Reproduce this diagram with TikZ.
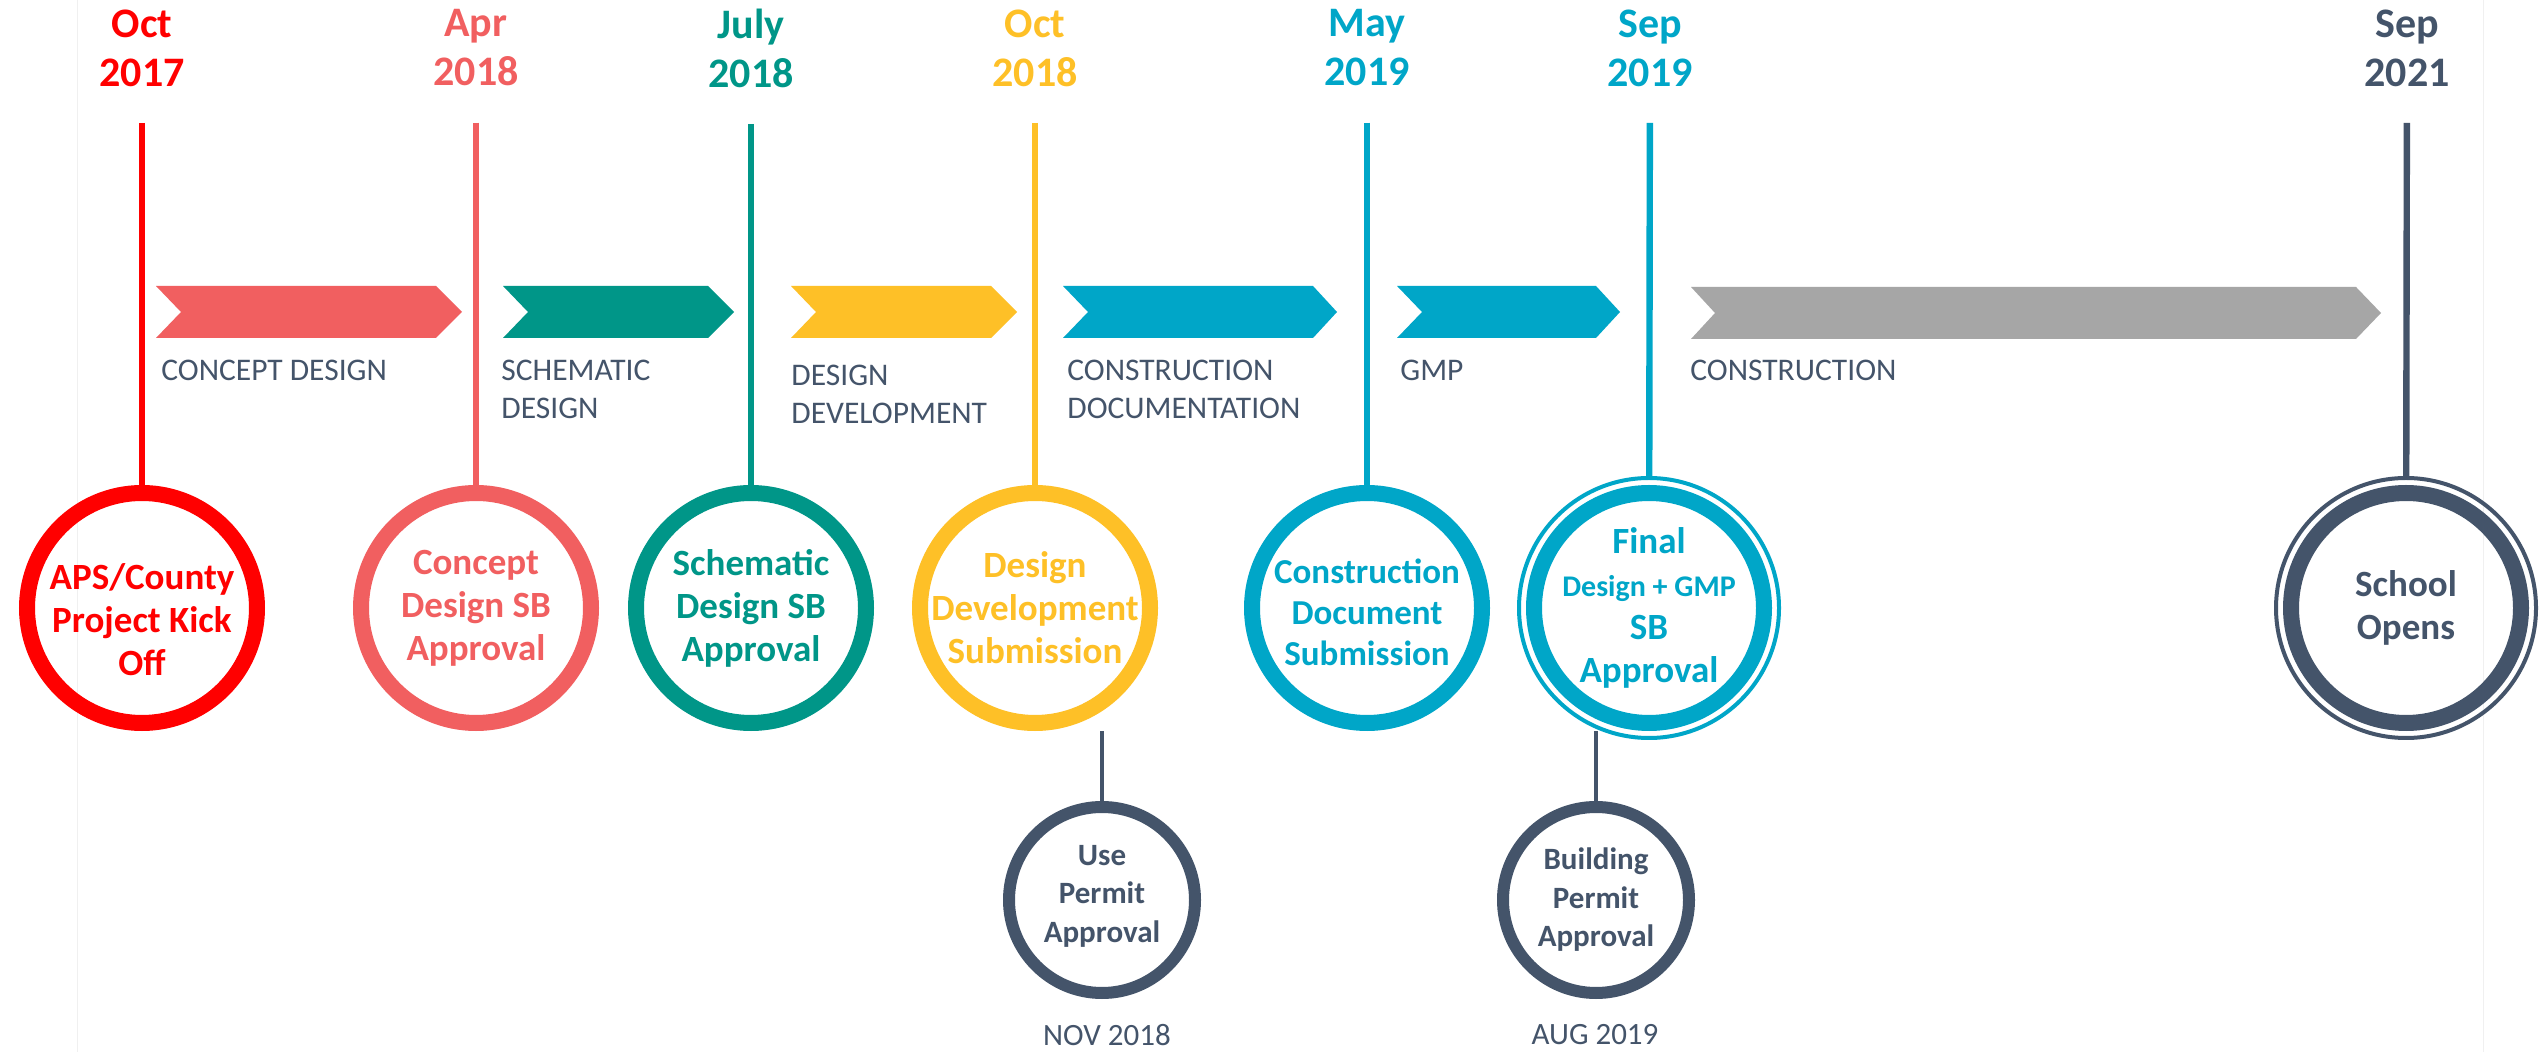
\documentclass[tikz,border=0pt]{standalone}
\usepackage{fontspec}
\setmainfont{Carlito}
\usepackage{tikz}
\usepackage{xcolor}
\usetikzlibrary{positioning}

\definecolor{kickred}{HTML}{FF0000}
\definecolor{salmon}{HTML}{F15F60}
\definecolor{tealgreen}{HTML}{009688}
\definecolor{amber}{HTML}{FEC027}
\definecolor{sky}{HTML}{00A6C8}
\definecolor{slate}{HTML}{44546A}
\definecolor{ashgray}{HTML}{A6A6A6}

\tikzset{
    ring/.style={circle, draw=#1, line width=8pt, minimum size=115pt, inner sep=0pt},
    outring/.style={circle, draw=#1, line width=2pt, minimum size=130pt, inner sep=0pt},
    minring/.style={circle, draw=slate, line width=6pt, minimum size=93pt, inner sep=0pt},
    stem/.style={draw=#1, line width=3.2pt, shorten <=18pt},
    link/.style={draw=slate, line width=2pt},
    datetext/.style={text=#1, font=\bfseries\fontsize{21}{24.5}\selectfont, align=center, inner sep=0pt},
    phasetext/.style={text=slate, font=\fontsize{15.75}{19}\selectfont, align=left, anchor=north west, inner sep=0pt},
    ringtext/.style={text=#1, font=\bfseries\fontsize{18.5}{21.5}\selectfont, align=center, inner sep=0pt},
    mintext/.style={text=slate, font=\bfseries\fontsize{15.5}{19.25}\selectfont, align=center, inner sep=0pt},
    monthtext/.style={text=slate, font=\fontsize{15.5}{19}\selectfont, inner sep=0pt}
}

\begin{document}
\begin{tikzpicture}[x=0.5pt, y=-0.5pt]
                    \fill[white] (0,0) rectangle (2539,1052);
                    \useasboundingbox (0,0) rectangle (2539,1052);
                    \draw[black!6, line width=0.5pt] (77,0) -- (77,1052);
                    \draw[black!6, line width=0.5pt] (2483,0) -- (2483,1052);

                    % dates
                    \node[datetext=kickred] (d-kick) at (142, 48) {Oct\\2017};
                    \node[datetext=salmon] (d-concept) at (476, 48) {Apr\\2018};
                    \node[datetext=tealgreen] (d-schem) at (751, 48) {July\\2018};
                    \node[datetext=amber] (d-devel) at (1035, 48) {Oct\\2018};
                    \node[datetext=sky] (d-cdoc) at (1367, 48) {May\\2019};
                    \node[datetext=sky] (d-final) at (1650, 48) {Sep\\2019};
                    \node[datetext=slate] (d-open) at (2407, 48) {Sep\\2021};

                    % phase arrows
                    \fill[salmon] (156,286) -- (436,286) -- (462,312) -- (436,338) -- (156,338) -- (181,312) -- cycle;
                    \fill[tealgreen] (503,286) -- (708,286) -- (734,312) -- (708,338) -- (503,338) -- (528,312) -- cycle;
                    \fill[amber] (791,286) -- (991,286) -- (1017,312) -- (991,338) -- (791,338) -- (816,312) -- cycle;
                    \fill[sky] (1063,286) -- (1313,286) -- (1337,312) -- (1313,338) -- (1063,338) -- (1088,312) -- cycle;
                    \fill[sky] (1397,286) -- (1596,286) -- (1620,312) -- (1596,338) -- (1397,338) -- (1422,312) -- cycle;
                    \fill[ashgray] (1691,287) -- (2356,287) -- (2381,313) -- (2356,339) -- (1691,339) -- (1715,313) -- cycle;

                    \node[phasetext] (p-concept) at (161, 360) {CONCEPT DESIGN};
                    \node[phasetext] (p-schem) at (501, 360) {SCHEMATIC\\DESIGN};
                    \node[phasetext] (p-devel) at (791, 365) {DESIGN\\DEVELOPMENT};
                    \node[phasetext] (p-cdoc) at (1067, 360) {CONSTRUCTION\\DOCUMENTATION};
                    \node[phasetext] (p-gmp) at (1400, 360) {GMP};
                    \node[phasetext] (p-build) at (1690, 360) {CONSTRUCTION};

                    % milestones
                    \node[ring=kickred, label={[ringtext=kickred, yshift=-6pt]center:{APS/County\\Project Kick\\Off}}] (kick) at (142, 608) {};
                    \node[ring=salmon, label={[ringtext=salmon]center:{Concept\\Design SB\\Approval}}] (concept) at (476, 608) {};
                    \node[ring=tealgreen, label={[ringtext=tealgreen]center:{Schematic\\Design SB\\Approval}}] (schem) at (751, 608) {};
                    \node[ring=amber, label={[ringtext=amber]center:{Design\\Development\\Submission}}] (devel) at (1035, 608) {};
                    \node[ring=sky, label={[ringtext=sky, font=\bfseries\fontsize{17.5}{20.5}\selectfont, yshift=-2pt]center:{Construction\\Document\\Submission}}] (cdoc) at (1367, 608) {};
                    \node[ring=sky, label={[ringtext=sky]center:{Final\\{\fontsize{15}{18}\selectfont Design + GMP}\\SB\\Approval}}] (final) at (1649, 608) {};
                    \node[outring=sky] (final-o) at (final) {};
                    \node[ring=slate, label={[ringtext=slate]center:{School\\Opens}}] (open) at (2406, 608) {};
                    \node[outring=slate] (open-o) at (open) {};

                    \draw[stem=kickred] (d-kick) -- (kick);
                    \draw[stem=salmon] (d-concept) -- (concept);
                    \draw[stem=tealgreen] (d-schem) -- (schem);
                    \draw[stem=amber] (d-devel) -- (devel);
                    \draw[stem=sky] (d-cdoc) -- (cdoc);
                    \draw[stem=sky] (d-final) -- (final-o);
                    \draw[stem=slate] (d-open) -- (open-o);

                    % permits
                    \node[minring, label={[mintext, yshift=2pt]center:{Use\\Permit\\Approval}}] (use) at (1102, 900) {};
                    \node[minring, label={[mintext]center:{Building\\Permit\\Approval}}] (bldg) at (1596, 900) {};
                    \draw[link] (use) -- (use.north |- devel.south);
                    \draw[link] (bldg) -- (bldg.north |- final.south);
                    \node[monthtext] (m-use) at (1107, 1035) {NOV 2018};
                    \node[monthtext] (m-bldg) at (1595, 1035) {AUG 2019};
\end{tikzpicture}
\end{document}
